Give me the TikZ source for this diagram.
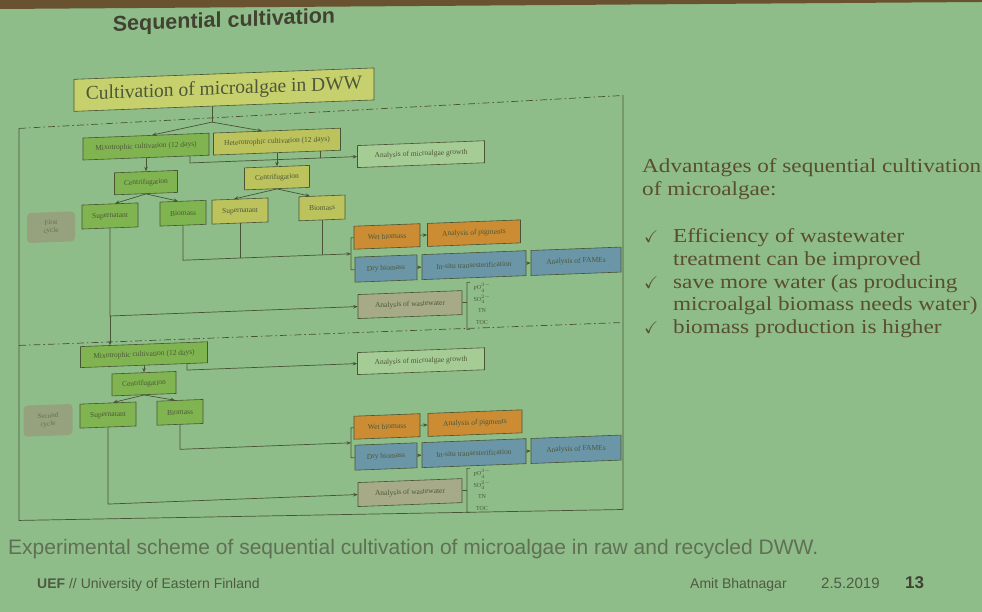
\documentclass[tikz,border=0pt]{standalone}
\usepackage{fontspec}
\usepackage{amssymb}
\setmainfont{Liberation Serif}
\setsansfont{Liberation Sans}
\newfontfamily\antiq[FakeStretch=1.17]{Liberation Serif}
\usetikzlibrary{arrows.meta}
\definecolor{bg}{RGB}{142,189,138}
\definecolor{lc}{RGB}{72,84,52}
\definecolor{gfill}{RGB}{128,180,80}
\definecolor{yfill}{RGB}{188,194,92}
\definecolor{tfill}{RGB}{198,208,108}
\definecolor{ofill}{RGB}{204,140,52}
\definecolor{bfill}{RGB}{106,150,168}
\definecolor{wfill}{RGB}{166,170,134}
\definecolor{cfill}{RGB}{150,162,126}
\definecolor{afill}{RGB}{166,204,150}
\definecolor{btxt}{RGB}{78,88,56}
\definecolor{ttxt}{RGB}{66,66,50}
\definecolor{rtxt}{RGB}{88,78,48}
\definecolor{ctxt}{RGB}{96,112,84}
\definecolor{ftxt}{RGB}{80,90,66}
\definecolor{edgec}{RGB}{104,82,48}
\begin{document}
\begin{tikzpicture}[x=1pt,y=-1pt,
  ln/.style={draw=lc, line width=0.7pt},
  arr/.style={ln, -{Stealth[length=4.5pt,width=3.5pt]}},
  dd/.style={ln, dash pattern=on 7pt off 3pt on 1.5pt off 3pt},
  nbox/.style={draw=lc, line width=0.6pt, inner sep=1pt, text=btxt, font=\fontsize{7.5}{8.5}\selectfont, minimum height=23pt},
  gbox/.style={nbox, fill=gfill},
  ybox/.style={nbox, fill=yfill},
  obox/.style={nbox, fill=ofill},
  bbox/.style={nbox, fill=bfill},
  wbox/.style={nbox, fill=wfill},
  abox/.style={nbox, fill=afill},
  cbox/.style={fill=cfill, rounded corners=4pt, text=btxt!70!cfill, align=center, font=\fontsize{7}{8}\selectfont, minimum width=48pt, minimum height=30pt, inner sep=1pt},
  lbl/.style={text=btxt, align=center, font=\fontsize{6}{11.5}\selectfont, inner sep=0pt},
  rt/.style={anchor=base west, inner sep=0pt, text=rtxt, font=\antiq\fontsize{19.8}{24}\selectfont},
  ck/.style={anchor=base west, inner sep=0pt, text=rtxt, font=\fontsize{17}{19}\selectfont},
  ft/.style={anchor=base west, inner sep=0pt, text=ftxt, font=\sffamily\fontsize{14}{16}\selectfont},
]
\useasboundingbox (0,0) rectangle (982,612);
\fill[bg] (0,0) rectangle (982,612);
\fill[edgec] (0,0) -- (982,0) -- (982,2) -- (0,9) -- cycle;

\begin{scope}[yshift=-12.16pt, yslant=0.038, transform shape]
\node[text=ttxt, font=\sffamily\bfseries\fontsize{21.5}{25}\selectfont] (title) at (224,18) {Sequential cultivation};
\node[nbox, fill=tfill, minimum width=300pt, minimum height=32pt, font=\fontsize{19.5}{22}\selectfont] (top) at (224,86) {Cultivation of microalgae in DWW};

% frame
\coordinate (ftl) at (19,117); \coordinate (ftr) at (623,107);
\coordinate (fml) at (19,334); \coordinate (fmr) at (623,334);
\coordinate (fbl) at (19,509); \coordinate (fbr) at (623,521);
\draw[dd] (ftl) -- (ftr);
\draw[dd] (fml) -- (fmr);
\draw[ln] (ftl) -- (fbl) -- (fbr) -- (ftr);

% first cycle nodes
\node[gbox, minimum width=126pt, minimum height=22pt] (mixo) at (146,140) {Mixotrophic cultivation (12 days)};
\node[ybox, minimum width=127pt, minimum height=22pt] (hetero) at (277,140) {Heterotrophic cultivation (12 days)};
\node[abox, minimum width=127pt, minimum height=22pt] (g1) at (421,158) {Analysis of microalgae growth};
\node[gbox, minimum width=63pt, minimum height=22pt] (c1g) at (146,176) {Centrifugation};
\node[ybox, minimum width=65pt, minimum height=22pt] (c1y) at (277,176) {Centrifugation};
\node[gbox, minimum width=56pt, minimum height=24pt] (s1g) at (110,208) {Supernatant};
\node[gbox, minimum width=46pt, minimum height=24pt] (b1g) at (183,208) {Biomass};
\node[ybox, minimum width=56pt, minimum height=24pt] (s1y) at (240,208) {Supernatant};
\node[ybox, minimum width=46pt, minimum height=24pt] (b1y) at (322,208) {Biomass};
\node[cbox] (cyc1) at (51,217) {First\\cycle};
\node[obox, minimum width=66pt] (wet1) at (387,239) {Wet biomass};
\node[obox, minimum width=93pt] (pig1) at (474,239) {Analysis of pigments};
\node[bbox, minimum width=62pt, minimum height=25pt] (dry1) at (386,271) {Dry biomass};
\node[bbox, minimum width=104pt, minimum height=25pt] (ins1) at (474,271) {In-situ transesterification};
\node[bbox, minimum width=90pt, minimum height=25pt] (fam1) at (576,271) {Analysis of FAMEs};
\node[wbox, minimum width=104pt, minimum height=24pt] (ww1) at (410,308) {Analysis of wastewater};
\node[lbl] (chem1) at (482,310) {PO$_4^{3-}$\\SO$_4^{2-}$\\TN\\TOC};

% second cycle nodes
\node[gbox, minimum width=127pt, minimum height=21pt] (mixo2) at (144,348) {Mixotrophic cultivation (12 days)};
\node[abox, minimum width=127pt, minimum height=22pt] (g2) at (421,365) {Analysis of microalgae growth};
\node[gbox, minimum width=64pt, minimum height=22pt] (c2) at (144,377) {Centrifugation};
\node[gbox, minimum width=56pt, minimum height=24pt] (s2) at (108,407) {Supernatant};
\node[gbox, minimum width=46pt, minimum height=24pt] (b2) at (180,407) {Biomass};
\node[cbox, minimum width=49pt, minimum height=31pt] (cyc2) at (48,410) {Second\\cycle};
\node[obox, minimum width=66pt] (wet2) at (387,429) {Wet biomass};
\node[obox, minimum width=94pt] (pig2) at (475,429) {Analysis of pigments};
\node[bbox, minimum width=62pt, minimum height=25pt] (dry2) at (386,459) {Dry biomass};
\node[bbox, minimum width=104pt, minimum height=25pt] (ins2) at (474,459) {In-situ transesterification};
\node[bbox, minimum width=90pt, minimum height=25pt] (fam2) at (576,459) {Analysis of FAMEs};
\node[wbox, minimum width=104pt, minimum height=24pt] (ww2) at (410,496) {Analysis of wastewater};
\node[lbl] (chem2) at (482,496) {PO$_4^{3-}$\\SO$_4^{2-}$\\TN\\TOC};

% first cycle connectors
\coordinate (sp0) at (212,118);
\draw[ln] ([xshift=-12pt]top.south) -- (sp0);
\draw[arr] (sp0) -- ([xshift=6pt]mixo.north);
\draw[arr] (sp0) -- ([xshift=-15pt]hetero.north);
\draw[arr] (mixo.south) -- (c1g.north);
\draw[arr] (hetero.south) -- (c1y.north);
\draw[arr] (c1g.south) -- ([xshift=5pt]s1g.north);
\draw[arr] (c1g.south) -- ([xshift=-5pt]b1g.north);
\draw[arr] (c1y.south) -- ([xshift=-6pt]s1y.north);
\draw[arr] (c1y.south) -- ([xshift=-12pt]b1y.north);
\coordinate (k1) at (190,158); \coordinate (k2) at (320,158);
\draw[arr] ([xshift=44pt]mixo.south) -- (k1) -- (g1.west);
\draw[ln] ([xshift=43pt]hetero.south) -- (k2);
\coordinate (k3) at (183,255); \coordinate (k4) at (240,255);
\coordinate (k5) at (322,255); \coordinate (br1) at (351,255);
\draw[arr] (b1g.south) -- (k3) -- (br1);
\draw[ln] (s1y.south) -- (k4);
\draw[ln] (b1y.south) -- (k5);
\coordinate (bt1) at (351,239); \coordinate (bb1) at (351,271);
\draw[ln] (wet1.west) -- (bt1) -- (bb1) -- (dry1.west);
\draw[arr] (wet1.east) -- (pig1.west);
\draw[arr] (dry1.east) -- (ins1.west);
\draw[arr] (ins1.east) -- (fam1.west);
\coordinate (k6) at (110,308);
\draw[arr] (s1g.south) -- (k6) -- (ww1.west);
\draw[arr] (k6) -- ([xshift=-34pt]mixo2.north);
\coordinate (wb1) at (467,308);
\coordinate (wt1) at (467,288); \coordinate (wd1) at (467,335);
\draw[ln] (ww1.east) -- (wb1);
\draw[ln] ([xshift=3pt]wt1) -- (wt1) -- (wd1) -- ([xshift=3pt]wd1);

% second cycle connectors
\draw[arr] (mixo2.south) -- (c2.north);
\draw[arr] (c2.south) -- ([xshift=5pt]s2.north);
\draw[arr] (c2.south) -- ([xshift=-5pt]b2.north);
\coordinate (k7) at (187,365);
\draw[arr] ([xshift=43pt]mixo2.south) -- (k7) -- (g2.west);
\coordinate (k8) at (180,444); \coordinate (br2) at (351,444);
\draw[arr] (b2.south) -- (k8) -- (br2);
\coordinate (bt2) at (351,429); \coordinate (bb2) at (351,459);
\draw[ln] (wet2.west) -- (bt2) -- (bb2) -- (dry2.west);
\draw[arr] (wet2.east) -- (pig2.west);
\draw[arr] (dry2.east) -- (ins2.west);
\draw[arr] (ins2.east) -- (fam2.west);
\coordinate (k9) at (108,496);
\draw[arr] (s2.south) -- (k9) -- (ww2.west);
\coordinate (wb2) at (467,496);
\coordinate (wt2) at (467,474); \coordinate (wd2) at (467,518);
\draw[ln] (ww2.east) -- (wb2);
\draw[ln] ([xshift=3pt]wt2) -- (wt2) -- (wd2) -- ([xshift=3pt]wd2);
\end{scope}

% right text
\node[rt] (adv1) at (642,172.5) {Advantages of sequential cultivation};
\node[rt] (adv2) at (642,196) {of microalgae:};
\node[ck] (ck1) at (644,243) {$\checkmark$};
\node[rt] (b1a) at (673,243) {Efficiency of wastewater};
\node[rt] (b1b) at (673,265.6) {treatment can be improved};
\node[ck] (ck2) at (644,288.2) {$\checkmark$};
\node[rt] (b2a) at (673,288.2) {save more water (as producing};
\node[rt] (b2b) at (673,310.8) {microalgal biomass needs water)};
\node[ck] (ck3) at (644,333.4) {$\checkmark$};
\node[rt] (b3a) at (673,333.4) {biomass production is higher};

% caption and footer
\node[anchor=base west, inner sep=0pt, text=ctxt, font=\sffamily\fontsize{21}{24}\selectfont] (cap) at (8,554) {Experimental scheme of sequential cultivation of microalgae in raw and recycled DWW.};
\node[ft] (uef) at (37,588) {\textbf{UEF} // University of Eastern Finland};
\node[ft] (auth) at (690,588) {Amit Bhatnagar};
\node[ft, font=\sffamily\fontsize{15}{17}\selectfont] (date) at (821,588) {2.5.2019};
\node[ft, text=ttxt, font=\sffamily\bfseries\fontsize{17}{19}\selectfont] (pg) at (905,588) {13};
\end{tikzpicture}
\end{document}
